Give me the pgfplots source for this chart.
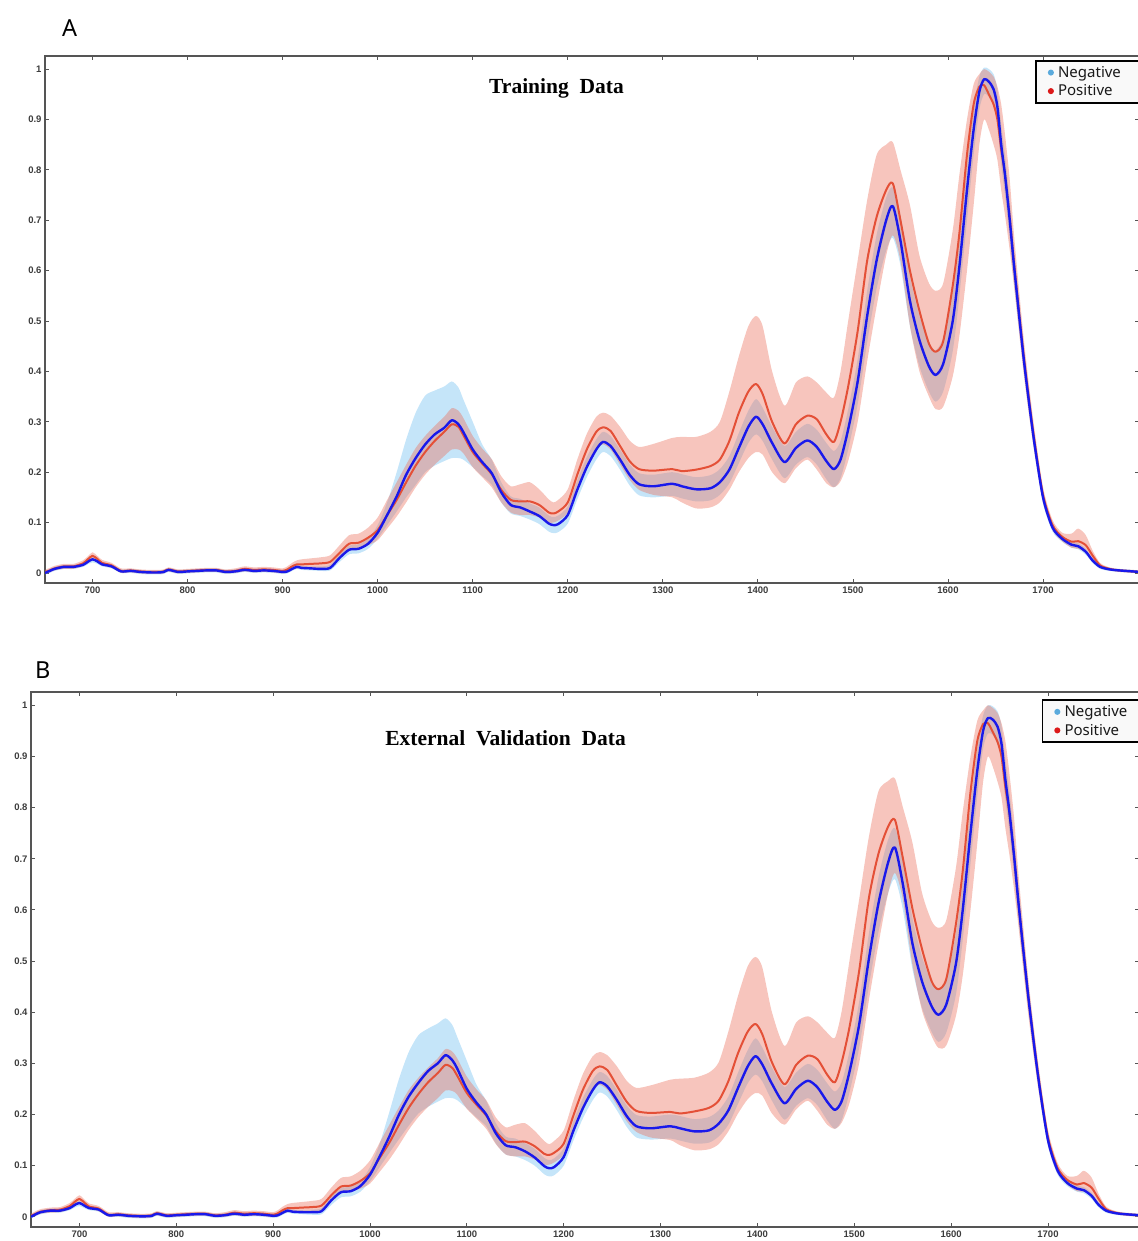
\documentclass[border=0pt]{standalone}
\usepackage{fontspec}
\usepackage{pgfplots}
\usepackage{pgfplotstable}
\pgfplotsset{compat=1.18}
\usepgfplotslibrary{fillbetween}
\newfontfamily\tickfont{Liberation Sans}
\newfontfamily\titlefont{Liberation Serif}
\newfontfamily\legfont{Noto Sans}
\definecolor{bandblue}{RGB}{110,190,240}
\definecolor{bandred}{RGB}{235,110,90}
\definecolor{lineblue}{RGB}{25,25,235}
\definecolor{linered}{RGB}{228,80,55}
\definecolor{dotblue}{RGB}{90,170,220}
\definecolor{dotred}{RGB}{220,25,25}
\definecolor{axgray}{RGB}{85,85,85}
\definecolor{ticktext}{RGB}{60,60,60}

\pgfplotstableread{
x n nlo nhi p plo phi
650 0.000 -0.003 0.003 0.002 -0.002 0.006
655 0.004 0.000 0.008 0.005 0.001 0.010
660 0.008 0.004 0.012 0.009 0.005 0.014
670 0.012 0.008 0.016 0.013 0.008 0.018
680 0.012 0.008 0.016 0.013 0.008 0.018
690 0.016 0.012 0.020 0.019 0.014 0.025
695 0.022 0.017 0.026 0.027 0.021 0.033
700 0.027 0.021 0.031 0.034 0.027 0.041
705 0.023 0.018 0.027 0.028 0.022 0.034
710 0.017 0.013 0.021 0.020 0.015 0.026
720 0.013 0.009 0.017 0.015 0.010 0.020
730 0.003 0.000 0.007 0.004 0.000 0.009
740 0.004 0.000 0.008 0.005 0.001 0.009
750 0.002 -0.002 0.006 0.003 -0.001 0.007
760 0.001 -0.003 0.005 0.002 -0.002 0.006
770 0.001 -0.003 0.005 0.002 -0.002 0.006
775 0.002 -0.002 0.006 0.003 -0.001 0.007
780 0.006 0.002 0.010 0.007 0.003 0.011
790 0.002 -0.002 0.006 0.003 -0.001 0.007
800 0.003 -0.001 0.007 0.004 0.000 0.008
810 0.004 0.000 0.008 0.005 0.001 0.009
820 0.005 0.001 0.009 0.006 0.002 0.010
830 0.005 0.001 0.009 0.006 0.002 0.010
840 0.002 -0.002 0.006 0.003 -0.001 0.007
850 0.003 -0.001 0.007 0.004 0.000 0.009
860 0.006 0.002 0.010 0.008 0.003 0.013
870 0.004 0.000 0.008 0.006 0.001 0.011
880 0.005 0.001 0.009 0.007 0.002 0.012
890 0.004 0.000 0.008 0.006 0.001 0.011
900 0.002 -0.002 0.006 0.004 -0.001 0.009
905 0.003 -0.001 0.007 0.007 0.001 0.013
910 0.008 0.004 0.012 0.013 0.006 0.020
915 0.012 0.008 0.016 0.017 0.009 0.025
920 0.010 0.006 0.014 0.017 0.009 0.027
930 0.009 0.005 0.013 0.018 0.009 0.029
940 0.008 0.004 0.013 0.019 0.010 0.031
950 0.010 0.005 0.016 0.022 0.012 0.035
960 0.030 0.022 0.038 0.040 0.028 0.055
970 0.046 0.037 0.054 0.058 0.045 0.075
980 0.048 0.039 0.057 0.060 0.049 0.078
990 0.058 0.048 0.068 0.070 0.055 0.090
1000 0.080 0.068 0.095 0.085 0.065 0.110
1010 0.115 0.095 0.140 0.115 0.088 0.145
1020 0.152 0.122 0.200 0.145 0.112 0.180
1030 0.195 0.150 0.265 0.180 0.140 0.215
1040 0.228 0.175 0.318 0.213 0.170 0.248
1050 0.255 0.200 0.352 0.240 0.195 0.272
1060 0.275 0.213 0.362 0.262 0.215 0.292
1070 0.288 0.222 0.370 0.280 0.232 0.310
1078 0.303 0.228 0.380 0.295 0.245 0.327
1085 0.295 0.228 0.368 0.290 0.245 0.322
1090 0.280 0.225 0.345 0.274 0.238 0.308
1100 0.245 0.210 0.300 0.240 0.210 0.272
1110 0.220 0.192 0.255 0.217 0.190 0.247
1120 0.198 0.175 0.225 0.196 0.170 0.226
1130 0.160 0.140 0.180 0.165 0.140 0.192
1140 0.135 0.118 0.152 0.145 0.120 0.172
1150 0.130 0.113 0.147 0.142 0.115 0.176
1160 0.122 0.106 0.138 0.142 0.115 0.180
1170 0.113 0.097 0.130 0.135 0.110 0.166
1180 0.098 0.082 0.114 0.120 0.100 0.146
1185 0.095 0.079 0.111 0.118 0.100 0.140
1190 0.097 0.081 0.114 0.122 0.104 0.145
1200 0.115 0.098 0.132 0.140 0.120 0.166
1210 0.165 0.146 0.184 0.195 0.170 0.225
1220 0.210 0.190 0.230 0.245 0.210 0.276
1230 0.245 0.225 0.265 0.280 0.245 0.310
1237 0.260 0.240 0.280 0.289 0.255 0.318
1245 0.252 0.232 0.272 0.282 0.245 0.312
1255 0.225 0.205 0.245 0.252 0.215 0.290
1265 0.195 0.174 0.216 0.222 0.185 0.263
1275 0.176 0.154 0.198 0.206 0.165 0.250
1290 0.172 0.150 0.195 0.203 0.155 0.256
1310 0.177 0.153 0.200 0.206 0.150 0.268
1320 0.172 0.148 0.196 0.202 0.140 0.270
1335 0.166 0.142 0.190 0.205 0.128 0.270
1350 0.168 0.144 0.194 0.212 0.130 0.280
1360 0.180 0.155 0.206 0.225 0.140 0.300
1370 0.205 0.178 0.232 0.262 0.165 0.360
1380 0.248 0.218 0.278 0.318 0.200 0.430
1390 0.290 0.258 0.322 0.360 0.228 0.490
1398 0.310 0.275 0.345 0.375 0.240 0.510
1405 0.295 0.262 0.328 0.355 0.235 0.490
1415 0.258 0.225 0.290 0.300 0.200 0.400
1428 0.220 0.188 0.252 0.257 0.178 0.332
1440 0.248 0.215 0.280 0.295 0.208 0.378
1452 0.263 0.230 0.296 0.312 0.225 0.390
1462 0.250 0.215 0.284 0.305 0.205 0.378
1472 0.222 0.186 0.258 0.275 0.178 0.358
1480 0.206 0.170 0.242 0.260 0.170 0.348
1487 0.225 0.188 0.262 0.300 0.182 0.400
1495 0.285 0.245 0.325 0.370 0.222 0.500
1505 0.380 0.335 0.425 0.480 0.300 0.620
1515 0.510 0.458 0.560 0.620 0.420 0.740
1525 0.621 0.565 0.672 0.707 0.530 0.830
1535 0.700 0.640 0.745 0.760 0.630 0.850
1542 0.728 0.665 0.765 0.773 0.670 0.855
1550 0.660 0.610 0.710 0.700 0.620 0.800
1560 0.540 0.490 0.590 0.600 0.490 0.730
1570 0.462 0.410 0.510 0.520 0.400 0.630
1580 0.410 0.360 0.458 0.455 0.350 0.575
1587 0.393 0.340 0.442 0.439 0.325 0.560
1595 0.415 0.360 0.468 0.460 0.330 0.575
1605 0.500 0.440 0.560 0.570 0.390 0.680
1612 0.608 0.550 0.668 0.674 0.470 0.790
1620 0.760 0.700 0.815 0.830 0.600 0.900
1627 0.880 0.830 0.925 0.930 0.730 0.970
1633 0.955 0.920 0.985 0.965 0.850 0.990
1638 0.980 0.950 1.003 0.968 0.900 1.000
1643 0.975 0.945 1.000 0.950 0.880 0.995
1648 0.960 0.925 0.990 0.930 0.850 0.985
1652 0.925 0.890 0.960 0.900 0.820 0.965
1656 0.850 0.810 0.890 0.840 0.760 0.930
1660 0.790 0.750 0.830 0.790 0.710 0.870
1665 0.700 0.660 0.740 0.705 0.640 0.780
1670 0.600 0.565 0.635 0.605 0.560 0.660
1680 0.420 0.395 0.445 0.425 0.390 0.460
1690 0.270 0.252 0.288 0.275 0.250 0.300
1700 0.150 0.138 0.162 0.155 0.140 0.170
1710 0.090 0.082 0.098 0.095 0.085 0.105
1720 0.068 0.062 0.074 0.072 0.063 0.080
1730 0.056 0.050 0.062 0.062 0.050 0.078
1737 0.053 0.047 0.059 0.063 0.048 0.088
1745 0.042 0.036 0.048 0.055 0.040 0.075
1752 0.025 0.020 0.030 0.035 0.025 0.045
1760 0.012 0.008 0.016 0.015 0.010 0.020
1770 0.007 0.004 0.010 0.008 0.005 0.011
1780 0.005 0.002 0.008 0.005 0.002 0.008
1802 0.002 -0.001 0.005 0.002 -0.001 0.005
}\dataA

\pgfplotstableread{
x n nlo nhi p plo phi
650 0.000 -0.003 0.003 0.002 -0.002 0.006
655 0.005 0.001 0.009 0.006 0.002 0.011
660 0.009 0.005 0.013 0.010 0.006 0.015
670 0.012 0.008 0.016 0.013 0.008 0.018
680 0.012 0.008 0.016 0.014 0.009 0.019
690 0.017 0.013 0.021 0.021 0.015 0.027
695 0.023 0.018 0.027 0.029 0.022 0.035
700 0.027 0.021 0.031 0.035 0.028 0.042
705 0.022 0.017 0.026 0.028 0.022 0.034
710 0.017 0.013 0.021 0.020 0.015 0.026
720 0.014 0.010 0.018 0.016 0.011 0.021
730 0.003 0.000 0.007 0.004 0.000 0.009
740 0.004 0.000 0.008 0.005 0.001 0.009
750 0.002 -0.002 0.006 0.003 -0.001 0.007
760 0.001 -0.003 0.005 0.002 -0.002 0.006
770 0.001 -0.003 0.005 0.002 -0.002 0.006
775 0.002 -0.002 0.006 0.003 -0.001 0.007
780 0.006 0.002 0.010 0.007 0.003 0.011
790 0.002 -0.002 0.006 0.003 -0.001 0.007
800 0.003 -0.001 0.007 0.004 0.000 0.008
810 0.004 0.000 0.008 0.005 0.001 0.009
820 0.005 0.001 0.009 0.006 0.002 0.010
830 0.005 0.001 0.009 0.006 0.002 0.010
840 0.002 -0.002 0.006 0.003 -0.001 0.007
850 0.003 -0.001 0.007 0.004 0.000 0.009
860 0.006 0.002 0.010 0.008 0.003 0.013
870 0.004 0.000 0.008 0.006 0.001 0.011
880 0.005 0.001 0.009 0.007 0.002 0.012
890 0.004 0.000 0.008 0.006 0.001 0.011
900 0.002 -0.002 0.006 0.004 -0.001 0.009
905 0.003 -0.001 0.007 0.007 0.001 0.013
910 0.008 0.004 0.012 0.013 0.006 0.020
915 0.012 0.008 0.016 0.017 0.009 0.025
920 0.010 0.006 0.014 0.017 0.009 0.027
930 0.009 0.005 0.013 0.018 0.009 0.029
940 0.009 0.004 0.014 0.019 0.010 0.031
950 0.011 0.005 0.017 0.022 0.012 0.035
960 0.032 0.023 0.040 0.042 0.029 0.057
970 0.048 0.038 0.056 0.059 0.046 0.076
980 0.050 0.040 0.059 0.061 0.050 0.079
990 0.060 0.049 0.070 0.070 0.055 0.090
1000 0.082 0.069 0.097 0.085 0.065 0.110
1010 0.118 0.097 0.143 0.115 0.088 0.145
1020 0.157 0.125 0.205 0.145 0.112 0.180
1030 0.200 0.152 0.270 0.180 0.140 0.215
1040 0.235 0.178 0.322 0.213 0.170 0.248
1050 0.262 0.202 0.355 0.240 0.195 0.272
1060 0.285 0.215 0.368 0.263 0.215 0.292
1070 0.300 0.225 0.378 0.281 0.232 0.310
1078 0.316 0.232 0.388 0.297 0.247 0.328
1085 0.306 0.232 0.375 0.291 0.246 0.323
1090 0.290 0.228 0.352 0.276 0.239 0.310
1100 0.250 0.212 0.305 0.242 0.211 0.274
1110 0.223 0.194 0.258 0.219 0.192 0.249
1120 0.200 0.177 0.227 0.198 0.172 0.228
1130 0.163 0.143 0.183 0.167 0.142 0.194
1140 0.140 0.122 0.157 0.148 0.122 0.175
1150 0.136 0.118 0.153 0.146 0.118 0.180
1160 0.128 0.111 0.144 0.147 0.118 0.183
1170 0.116 0.100 0.133 0.138 0.112 0.168
1180 0.099 0.083 0.115 0.123 0.102 0.148
1185 0.095 0.079 0.111 0.121 0.102 0.142
1190 0.097 0.081 0.114 0.125 0.106 0.148
1200 0.117 0.100 0.134 0.143 0.122 0.169
1210 0.168 0.149 0.187 0.198 0.172 0.228
1220 0.213 0.193 0.233 0.249 0.213 0.280
1230 0.248 0.228 0.268 0.285 0.248 0.314
1237 0.263 0.243 0.283 0.294 0.258 0.322
1245 0.255 0.235 0.275 0.287 0.248 0.316
1255 0.228 0.208 0.248 0.256 0.218 0.294
1265 0.197 0.176 0.218 0.225 0.187 0.266
1275 0.177 0.155 0.199 0.207 0.166 0.252
1290 0.173 0.151 0.196 0.203 0.155 0.257
1310 0.177 0.153 0.200 0.205 0.150 0.268
1320 0.173 0.149 0.197 0.202 0.140 0.270
1335 0.167 0.143 0.191 0.206 0.130 0.272
1350 0.169 0.145 0.195 0.213 0.132 0.282
1360 0.182 0.157 0.208 0.227 0.142 0.302
1370 0.208 0.180 0.235 0.265 0.167 0.362
1380 0.252 0.221 0.282 0.320 0.202 0.432
1390 0.294 0.261 0.326 0.362 0.230 0.490
1398 0.314 0.278 0.349 0.377 0.242 0.508
1405 0.298 0.265 0.331 0.357 0.237 0.488
1415 0.260 0.227 0.292 0.302 0.202 0.400
1428 0.222 0.190 0.254 0.259 0.180 0.334
1440 0.250 0.217 0.282 0.297 0.210 0.380
1452 0.266 0.232 0.299 0.315 0.227 0.392
1462 0.253 0.218 0.287 0.308 0.207 0.380
1472 0.225 0.189 0.261 0.278 0.180 0.360
1480 0.209 0.172 0.245 0.263 0.172 0.350
1487 0.226 0.189 0.263 0.302 0.184 0.402
1495 0.283 0.243 0.323 0.370 0.222 0.500
1505 0.375 0.330 0.420 0.480 0.300 0.620
1515 0.503 0.450 0.553 0.622 0.422 0.742
1525 0.613 0.557 0.664 0.710 0.533 0.832
1535 0.693 0.633 0.738 0.763 0.633 0.852
1542 0.722 0.660 0.760 0.776 0.672 0.857
1550 0.652 0.602 0.702 0.703 0.622 0.802
1560 0.535 0.485 0.585 0.603 0.493 0.732
1570 0.460 0.408 0.508 0.523 0.403 0.633
1580 0.411 0.361 0.459 0.460 0.353 0.578
1587 0.395 0.342 0.444 0.445 0.330 0.565
1595 0.415 0.360 0.468 0.465 0.335 0.580
1605 0.495 0.435 0.555 0.573 0.393 0.683
1612 0.600 0.542 0.660 0.676 0.472 0.792
1620 0.750 0.690 0.805 0.830 0.600 0.900
1627 0.872 0.822 0.918 0.930 0.730 0.970
1633 0.950 0.915 0.980 0.963 0.850 0.990
1638 0.975 0.945 1.000 0.965 0.900 1.000
1643 0.972 0.942 0.998 0.948 0.880 0.995
1648 0.958 0.923 0.988 0.928 0.850 0.985
1652 0.925 0.890 0.960 0.900 0.820 0.965
1656 0.855 0.815 0.895 0.840 0.760 0.930
1660 0.795 0.755 0.835 0.790 0.710 0.870
1665 0.705 0.665 0.745 0.705 0.640 0.780
1670 0.605 0.570 0.640 0.605 0.560 0.660
1680 0.425 0.400 0.450 0.425 0.390 0.460
1690 0.272 0.254 0.290 0.275 0.250 0.300
1700 0.150 0.138 0.162 0.155 0.140 0.170
1710 0.090 0.082 0.098 0.095 0.085 0.105
1720 0.066 0.060 0.072 0.072 0.063 0.080
1730 0.055 0.049 0.061 0.063 0.050 0.080
1737 0.052 0.046 0.058 0.066 0.049 0.090
1745 0.041 0.035 0.047 0.057 0.041 0.077
1752 0.024 0.019 0.029 0.036 0.026 0.046
1760 0.012 0.008 0.016 0.015 0.010 0.020
1770 0.007 0.004 0.010 0.008 0.005 0.011
1780 0.005 0.002 0.008 0.005 0.002 0.008
1802 0.002 -0.001 0.005 0.002 -0.001 0.005
}\dataB

\pgfplotsset{spec/.style={
  scale only axis,
  xmin=650, ymin=-0.02, ymax=1.026,
  xtick={700,800,900,1000,1100,1200,1300,1400,1500,1600,1700},
  ytick={0,0.1,0.2,0.3,0.4,0.5,0.6,0.7,0.8,0.9,1},
  tick align=inside,
  major tick length=4pt,
  axis line style={axgray, line width=1.3pt},
  every tick/.style={axgray, line width=0.8pt},
  tick label style={font=\tickfont\bfseries\fontsize{9.5}{10}\selectfont, text=ticktext},
  /pgf/number format/assume math mode=true,
  /pgf/number format/1000 sep={},
  legend style={draw=black, line width=1.6pt, fill=gray!5, anchor=north west,
    font=\legfont\fontsize{15}{17}\selectfont, text=black!90,
    inner xsep=12pt, inner ysep=3.5pt, row sep=2pt},
  legend cell align=left,
  every axis plot/.append style={smooth, tension=0.45, line join=round},
}}

\begin{document}
\begin{tikzpicture}

% ---------------- Panel A ----------------
\begin{axis}[spec, at={(45pt,-583pt)}, anchor=south west,
  width=1094pt, height=527pt, xmax=1801,
  legend style={at={(0.905,0.9924)}}]
\addplot[draw=none, name path=nhiA, forget plot] table[x=x,y=nhi]{\dataA};
\addplot[draw=none, name path=nloA, forget plot] table[x=x,y=nlo]{\dataA};
\addplot[fill=bandblue, fill opacity=0.4, draw=none, forget plot] fill between[of=nhiA and nloA];
\addplot[draw=none, name path=phiA, forget plot] table[x=x,y=phi]{\dataA};
\addplot[draw=none, name path=ploA, forget plot] table[x=x,y=plo]{\dataA};
\addplot[fill=bandred, fill opacity=0.4, draw=none, forget plot] fill between[of=phiA and ploA];
\addplot[linered, line width=2pt, forget plot] table[x=x,y=p]{\dataA};
\addplot[lineblue, line width=2.4pt, forget plot] table[x=x,y=n]{\dataA};
\addlegendimage{legend image code/.code={\fill[dotblue] (0pt,0pt) circle (2.2pt); \path (4.4pt,0pt);}}
\addlegendentry{Negative\hspace*{30pt}}
\addlegendimage{legend image code/.code={\fill[dotred] (0pt,0pt) circle (2.2pt); \path (4.4pt,0pt);}}
\addlegendentry{Positive}
\end{axis}

% ---------------- Panel B ----------------
\begin{axis}[spec, at={(31pt,-1227pt)}, anchor=south west,
  width=1108pt, height=535pt, xmax=1794,
  legend style={at={(0.912,0.9864)}}]
\addplot[draw=none, name path=nhiB, forget plot] table[x=x,y=nhi]{\dataB};
\addplot[draw=none, name path=nloB, forget plot] table[x=x,y=nlo]{\dataB};
\addplot[fill=bandblue, fill opacity=0.4, draw=none, forget plot] fill between[of=nhiB and nloB];
\addplot[draw=none, name path=phiB, forget plot] table[x=x,y=phi]{\dataB};
\addplot[draw=none, name path=ploB, forget plot] table[x=x,y=plo]{\dataB};
\addplot[fill=bandred, fill opacity=0.4, draw=none, forget plot] fill between[of=phiB and ploB];
\addplot[linered, line width=2pt, forget plot] table[x=x,y=p]{\dataB};
\addplot[lineblue, line width=2.4pt, forget plot] table[x=x,y=n]{\dataB};
\addlegendimage{legend image code/.code={\fill[dotblue] (0pt,0pt) circle (2.2pt); \path (4.4pt,0pt);}}
\addlegendentry{Negative\hspace*{30pt}}
\addlegendimage{legend image code/.code={\fill[dotred] (0pt,0pt) circle (2.2pt); \path (4.4pt,0pt);}}
\addlegendentry{Positive}
\end{axis}

% titles and panel letters
\node[font=\titlefont\bfseries\fontsize{21.5}{24}\selectfont] at (556.5pt,-88pt) {Training~~Data};
\node[font=\titlefont\bfseries\fontsize{21.5}{24}\selectfont] at (505.5pt,-738pt) {External~~Validation~~Data};
\node[anchor=base west, inner sep=0pt, font=\legfont\fontsize{23.5}{26}\selectfont] at (62pt,-36.7pt) {A};
\node[anchor=base west, inner sep=0pt, font=\legfont\fontsize{23.5}{26}\selectfont] at (35pt,-678pt) {B};

\pgfresetboundingbox
\useasboundingbox (0pt,0pt) rectangle (1137pt,-1241pt);
\end{tikzpicture}
\end{document}
